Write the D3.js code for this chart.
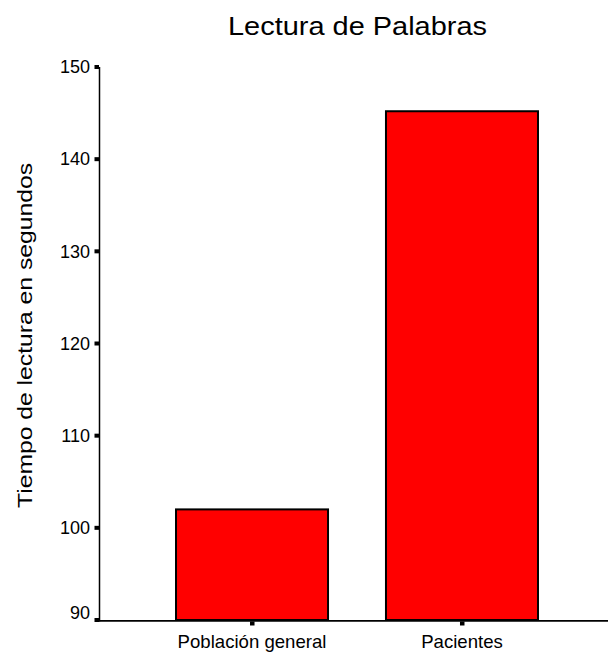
<!DOCTYPE html>
<html><head><meta charset="utf-8">
<script src="https://cdn.jsdelivr.net/npm/d3@7"></script>
<style>body{margin:0;background:#fff}svg{display:block}text{font-family:Arial,"Liberation Sans",sans-serif;fill:#000}</style>
</head><body>
<script>
const categories = ["Población general", "Pacientes"];
const values = [102.0, 145.2];
const yTicks = [90, 100, 110, 120, 130, 140, 150];
const title = "Lectura de Palabras";
const yTitle = "Tiempo de lectura en segundos";

const W = 608, H = 655;
const svg = d3.select("body").append("svg").attr("width", W).attr("height", H);

const y = d3.scaleLinear().domain([90, 150]).range([620, 67]);
const x = d3.scaleBand().domain(categories).range([100, 614]).paddingInner(0.276).paddingOuter(0.362);

// bars
svg.selectAll("rect.bar").data(values).enter().append("rect")
  .attr("class", "bar")
  .attr("x", (d, i) => x(categories[i]))
  .attr("width", x.bandwidth())
  .attr("y", d => y(d))
  .attr("height", d => y(90) - y(d))
  .attr("fill", "#ff0000").attr("stroke", "#000").attr("stroke-width", 2);

// y axis line
svg.append("line").attr("x1", 99.5).attr("x2", 99.5).attr("y1", y(150)).attr("y2", 621.5)
  .attr("stroke", "#000").attr("stroke-width", 1.5);
// x axis line
svg.append("line").attr("x1", 99).attr("x2", W).attr("y1", 620.8).attr("y2", 620.8)
  .attr("stroke", "#000").attr("stroke-width", 1.8);

// y ticks
const yt = svg.selectAll("g.yt").data(yTicks).enter().append("g").attr("class", "yt")
  .attr("transform", d => `translate(0,${y(d)})`);
yt.append("rect").attr("x", 94.5).attr("y", -2).attr("width", 4.5).attr("height", 4).attr("fill", "#000");
yt.append("text").attr("x", 90).attr("y", (d, i) => i === 0 ? -7 : 0).attr("dy", "0.35em")
  .attr("text-anchor", "end").attr("font-size", 18).text(d => d);

// x ticks
const xt = svg.selectAll("g.xt").data(categories).enter().append("g").attr("class", "xt")
  .attr("transform", d => `translate(${x(d) + x.bandwidth() / 2},0)`);
xt.append("rect").attr("x", -2).attr("y", 621.5).attr("width", 4.5).attr("height", 4).attr("fill", "#000");
xt.append("text").attr("y", 648).attr("text-anchor", "middle").attr("font-size", 18.6).text(d => d);

// title
svg.append("text").attr("x", 357.5).attr("y", 35).attr("text-anchor", "middle")
  .attr("font-size", 25.5).attr("textLength", 259).attr("lengthAdjust", "spacingAndGlyphs").text(title);
// y title
svg.append("text").attr("transform", "translate(32,335.5) rotate(-90)").attr("text-anchor", "middle")
  .attr("font-size", 21).attr("textLength", 345).attr("lengthAdjust", "spacingAndGlyphs").text(yTitle);
</script>
</body></html>
